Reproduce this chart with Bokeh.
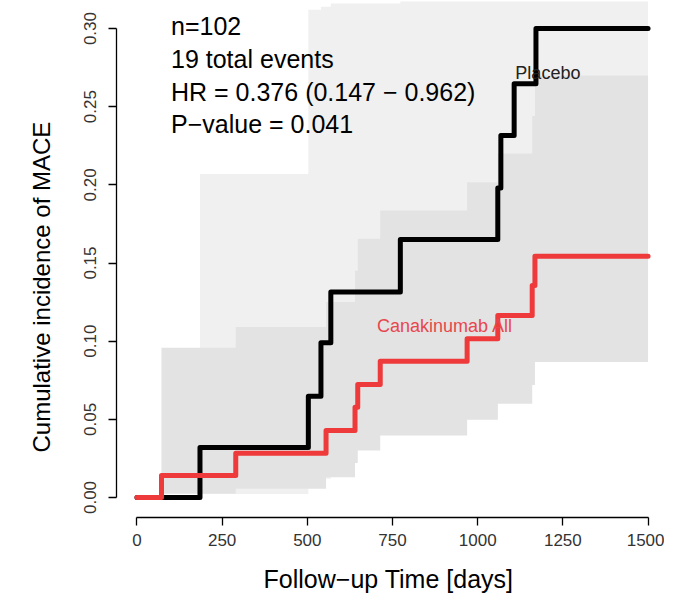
from bokeh.plotting import figure
from bokeh.models import Range1d, FixedTicker, NumeralTickFormatter, Label, Title
from bokeh.embed import file_html
from bokeh.resources import INLINE

# ---------------- data ----------------
x_ticks = [0, 250, 500, 750, 1000, 1250, 1500]
y_ticks = [0.00, 0.05, 0.10, 0.15, 0.20, 0.25, 0.30]

placebo_time  = [0, 185, 503, 540, 569, 773, 1059, 1068, 1107, 1171, 1500]
placebo_est   = [0, 0.032, 0.0648, 0.099, 0.1314, 0.165, 0.198, 0.2316, 0.2647, 0.300, 0.300]
placebo_lower = [0, 0.0022, 0.006, 0.012, 0.040, 0.050, 0.062, 0.080, 0.100, 0.130, 0.130]
placebo_upper = [0, 0.207, 0.312, 0.314, 0.316, 0.360, 0.400, 0.430, 0.460, 0.500, 0.500]

cana_time  = [0, 72, 290, 555, 640, 648, 714, 969, 1059, 1160, 1168, 1500]
cana_est   = [0, 0.0141, 0.0283, 0.0429, 0.0578, 0.0723, 0.0872, 0.1015, 0.1164, 0.1356, 0.1544, 0.1544]
cana_lower = [0, 0.0024, 0.0056, 0.013, 0.022, 0.030, 0.0397, 0.0497, 0.060, 0.072, 0.0866, 0.0866]
cana_upper = [0, 0.0958, 0.109, 0.125, 0.145, 0.1655, 0.1836, 0.2017, 0.220, 0.244, 0.270, 0.270]

annotation_lines = ["n=102", "19 total events",
                    "HR = 0.376 (0.147 \u2212 0.962)", "P\u2212value = 0.041"]
group_names = ["Placebo", "Canakinumab All"]
x_title = "Follow\u2212up Time [days]"
y_title = "Cumulative incidence of MACE"

# ---------------- figure ----------------
p = figure(frame_width=544, frame_height=516,
           x_range=Range1d(-60, 1536.5), y_range=Range1d(-0.0128, 0.3173),
           output_backend="svg", toolbar_location=None,
           min_border_left=116, min_border_right=4,
           min_border_top=1, min_border_bottom=78)
p.outline_line_color = None
p.grid.visible = False
p.background_fill_color = "white"

# confidence bands
p.varea_step(x=placebo_time, y1=placebo_lower, y2=placebo_upper,
             step_mode="after", fill_color="#F0F0F0")
p.varea_step(x=cana_time, y1=cana_lower, y2=cana_upper,
             step_mode="after", fill_color="#E3E3E3")

# curves
p.step(placebo_time, placebo_est, mode="after", line_color="black",
       line_width=5, line_join="round", line_cap="round")
p.step(cana_time, cana_est, mode="after", line_color="#EE3A3A",
       line_width=5, line_join="round", line_cap="round")

# group labels
p.add_layout(Label(x=1206, y=0.2713, text=group_names[0], text_align="center",
                   text_baseline="middle", text_font="Liberation Sans",
                   text_font_size="18px", text_color="#222222"))
p.add_layout(Label(x=904, y=0.110, text=group_names[1], text_align="center",
                   text_baseline="middle", text_font="Liberation Sans",
                   text_font_size="18px", text_color="#E8474C"))

# annotation block
ann_y = [0.3019, 0.2807, 0.2597, 0.2392]
for txt, yy in zip(annotation_lines, ann_y):
    p.add_layout(Label(x=100, y=yy, text=txt, text_align="left",
                       text_baseline="alphabetic", text_font="Liberation Sans",
                       text_font_size="25px", text_color="black"))

# y axis title
p.add_layout(Title(text=y_title, align="left", offset=65, standoff=49,
                   vertical_align="top",
                   text_font="Liberation Sans", text_font_size="24px",
                   text_font_style="normal", text_color="black"), "left")

# axes
for ax in (p.xaxis[0], p.yaxis[0]):
    ax.axis_line_width = 1.3
    ax.axis_line_color = "black"
    ax.major_tick_line_width = 1.3
    ax.major_tick_line_color = "black"
    ax.major_tick_in = 0
    ax.major_tick_out = 8
    ax.minor_tick_line_color = None
    ax.major_label_text_font = "Liberation Sans"
    ax.major_label_text_font_size = "17px"
    ax.major_label_text_color = "#333333"
    ax.axis_label_text_font = "Liberation Sans"
    ax.axis_label_text_font_size = "25px"
    ax.axis_label_text_font_style = "normal"
    ax.axis_label_text_color = "black"

p.xaxis.ticker = FixedTicker(ticks=x_ticks)
p.xaxis.bounds = (x_ticks[0], x_ticks[-1])
p.xaxis.axis_label = x_title
p.xaxis.major_label_standoff = 8
p.xaxis.axis_label_standoff = 16

p.yaxis.ticker = FixedTicker(ticks=y_ticks)
p.yaxis.bounds = (y_ticks[0], y_ticks[-1])
p.yaxis.formatter = NumeralTickFormatter(format="0.00")
p.yaxis.major_label_orientation = "vertical"
p.yaxis.major_label_standoff = 12

open("out.html", "w").write(file_html(p, INLINE))
